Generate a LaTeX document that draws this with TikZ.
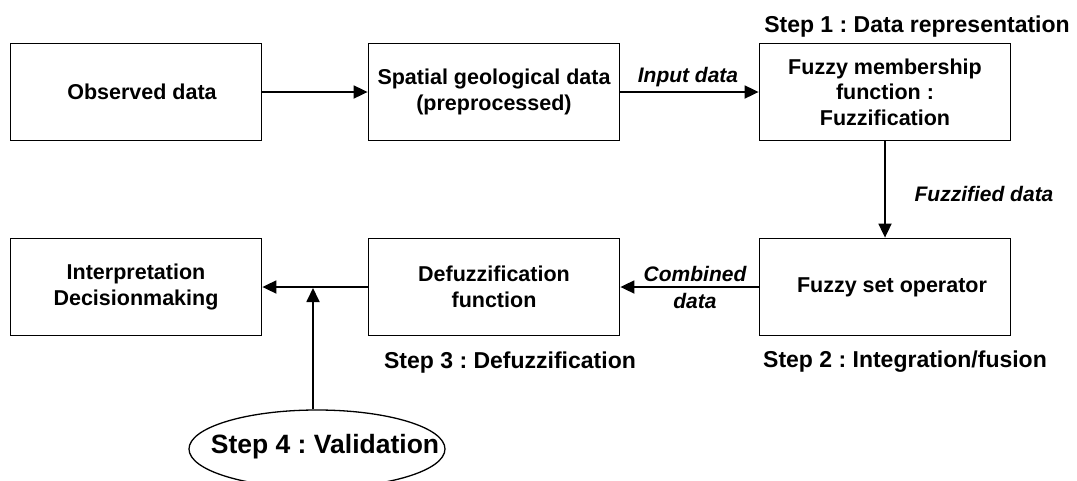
\documentclass[tikz,border=0pt]{standalone}
\usepackage{fontspec}
\setmainfont{Liberation Sans}
\usetikzlibrary{arrows.meta,shapes.geometric}
\frenchspacing
\begin{document}
\begin{tikzpicture}[x=1pt,y=-1pt,
  box/.style={draw,line width=1.8pt,minimum width=251pt,minimum height=97pt,inner sep=0pt,align=center,
    font=\fontsize{21.5}{25.5}\selectfont\bfseries},
  lab/.style={font=\fontsize{21}{27}\selectfont\bfseries\itshape,inner sep=0pt,align=center},
  steplab/.style={font=\fontsize{23}{27}\selectfont\bfseries,inner sep=0pt,anchor=base},
  conn/.style={line width=1.8pt,-{Triangle[length=14pt,width=13pt]}}]
\useasboundingbox (0,0) rectangle (1077,480);
\node[box] (obs) at (136,92) {\hspace*{12pt}Observed data};
\node[box] (spat) at (494,92) {Spatial geological data\\(preprocessed)};
\node[box] (fmf) at (885,92) {Fuzzy membership\\function :\\Fuzzification};
\node[box] (interp) at (136,287) {Interpretation\\Decisionmaking};
\node[box] (defuz) at (494,287) {Defuzzification\\function};
\node[box] (fso) at (885,287) {\hspace*{14pt}Fuzzy set operator};
\node[draw,ellipse,line width=1.3pt,minimum width=256pt,minimum height=78pt,inner sep=0pt] (val) at (317,449) {};
\node[font=\fontsize{26.5}{28}\selectfont\bfseries,inner sep=0pt] (valtxt) at (325,447) {Step 4 : Validation};
\coordinate (join) at (313,288);
\draw[conn] (obs) -- (spat);
\draw[conn] (spat) -- (fmf);
\draw[conn] (fmf) -- (fso);
\draw[conn] (fso) -- (defuz);
\draw[conn] (defuz) -- (interp);
\draw[conn] (val.north -| join) -- (join);
\node[lab,anchor=base] (inp) at (688,82) {Input data};
\node[lab,anchor=base] (fzd) at (984,201) {Fuzzified data};
\node[lab] (comb) at (695,287) {Combined\\data};
\node[steplab] (s1) at (917,32) {Step 1 : Data representation};
\node[steplab] (s2) at (905,367) {Step 2 : Integration/fusion};
\node[steplab] (s3) at (510,368) {Step 3 : Defuzzification};
\end{tikzpicture}
\end{document}
